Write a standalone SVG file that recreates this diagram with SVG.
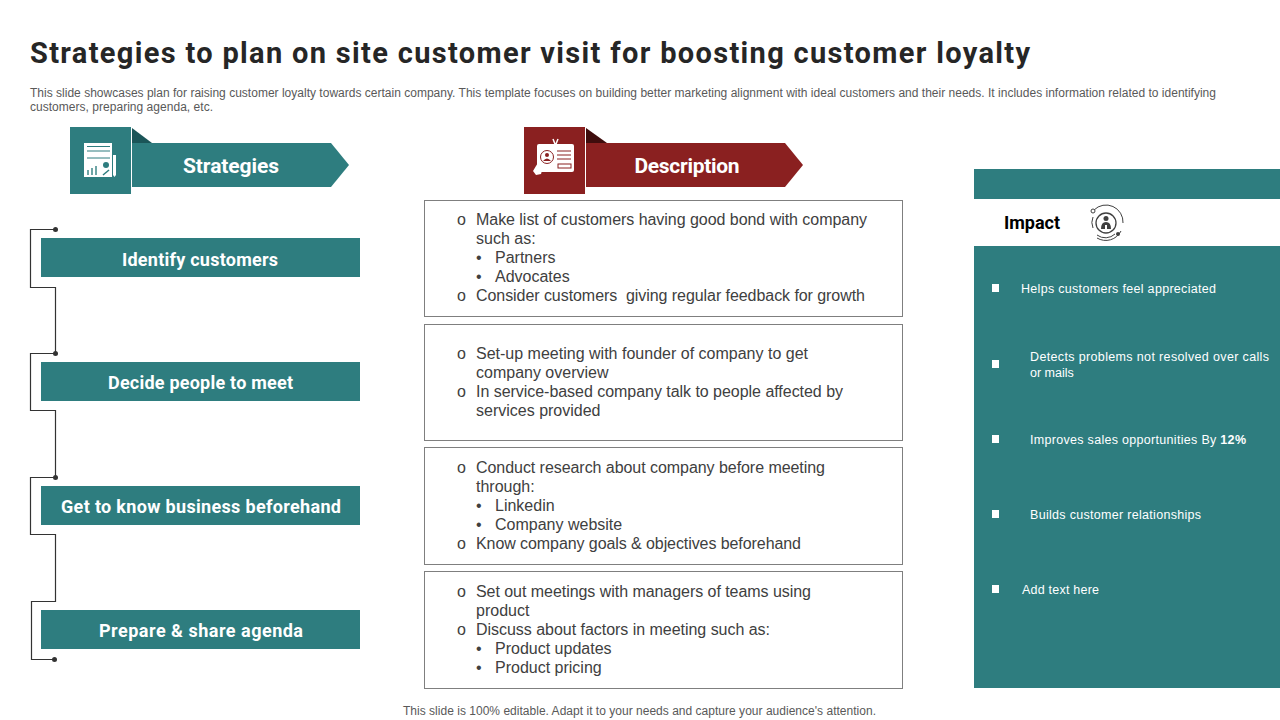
<svg xmlns="http://www.w3.org/2000/svg" width="1280" height="720" viewBox="0 0 1280 720">
<style>
.h{font-family:"Roboto","Liberation Sans",sans-serif;font-weight:700;fill:#fff;text-anchor:middle;font-size:18px}
.b{font-family:"Liberation Sans",Arial,sans-serif;font-size:16px;fill:#404040;white-space:pre}
.w{font-family:"Liberation Sans",Arial,sans-serif;font-size:12.500px;fill:#fff}
.s{font-family:"Liberation Sans",Arial,sans-serif;font-size:12px;fill:#595959}
.box{fill:#fff;stroke:#7f7f7f;stroke-width:1}
.t{fill:#2e7d7f}
.r{fill:#8a2020}
.c{fill:none;stroke:#333;stroke-width:1.200}
.d{fill:#333}
.q{fill:#fff}
.i{fill:none;stroke:#404040;stroke-width:1}
</style>
<rect width="1280" height="720" fill="#fff"/>
<g id="title">
<text x="30" y="63" font-family="Roboto,'Liberation Sans',sans-serif" font-weight="700" font-size="29" fill="#262626" textLength="1000" lengthAdjust="spacing">Strategies to plan on site customer visit for boosting customer loyalty</text>
<text class="s" x="30" y="97" textLength="1186">This slide showcases plan for raising customer loyalty towards certain company. This template focuses on building better marketing alignment with ideal customers and their needs. It includes information related to identifying</text>
<text class="s" x="30" y="111" textLength="183">customers, preparing agenda, etc.</text>
</g>
<g id="connectors">
<path class="c" d="M55.500 229.500H30.500V287.500H55.500V353.500H30.500V410.500H55.500V477.500H30.500V534.500H55.500V601.500H31.500V659.500H54.500"/>
<circle class="d" cx="55.500" cy="229.500" r="2.500"/>
<circle class="d" cx="55.500" cy="353.500" r="2.500"/>
<circle class="d" cx="55.500" cy="477.500" r="2.500"/>
<circle class="d" cx="54.500" cy="659.500" r="2.500"/>
</g>
<g id="strategies-header">
<rect class="t" x="70" y="127" width="61" height="67"/>
<path fill="#1b5558" d="M132 128L152 143H132Z"/>
<path class="t" d="M132 143H331L349 165L331 187H132Z"/>
<text class="h" x="231" y="173" style="font-size:21px" textLength="96">Strategies</text>
<rect class="q" x="84" y="143" width="28" height="34"/>
<path d="M87 146.500H110M87 151H110M87 158H110" stroke="#2e7d7f" stroke-width="1"/>
<path d="M88 175V170M92 175V168M96 175V166" stroke="#6ea5a6" stroke-width="2"/>
<circle class="t" cx="106" cy="165" r="3"/>
<path d="M103 175L109 170" stroke="#2e7d7f" stroke-width="1.500"/>
<path class="q" d="M113 155H116V175L114.500 177L113 175Z"/>
</g>
<g id="description-header">
<rect class="r" x="524" y="127" width="61" height="67"/>
<path fill="#3f0d0d" d="M586 128L607 143H586Z"/>
<path class="r" d="M586 143H785L803 165L785 187H586Z"/>
<text class="h" x="687" y="173" style="font-size:21px" textLength="105">Description</text>
<rect class="q" x="537" y="144" width="37" height="28" rx="2"/>
<path d="M553 139L555 144M558 139L556 144" stroke="#fff" stroke-width="1.500"/>
<circle cx="547" cy="157" r="6.500" fill="#fff" stroke="#8a2020"/>
<circle cx="547" cy="155" r="2" fill="#8a2020"/>
<path d="M543 161Q547 156 551 161Z" fill="#8a2020"/>
<path d="M557 151H571M557 155H571M557 159H571" stroke="#8a2020" stroke-width="1"/>
<rect x="558" y="164" width="13" height="4" fill="none" stroke="#8a2020" stroke-width="1"/>
<path class="q" d="M533 171L539 161L543 167L541 174L536 175Z"/>
</g>
<g id="identify"><rect class="t" x="41" y="238" width="319" height="39"/><text class="h" x="200" y="266" textLength="156">Identify customers</text></g>
<g id="decide"><rect class="t" x="41" y="362" width="319" height="39"/><text class="h" x="200.500" y="389" textLength="185">Decide people to meet</text></g>
<g id="know"><rect class="t" x="41" y="486" width="319" height="39"/><text class="h" x="201" y="513" textLength="280">Get to know business beforehand</text></g>
<g id="prepare"><rect class="t" x="41" y="610" width="319" height="39"/><text class="h" x="201" y="637" textLength="204">Prepare &amp; share agenda</text></g>
<g id="desc1"><rect class="box" x="424.500" y="200.500" width="478" height="116"/>
<text class="b" x="457" y="225">o</text><text class="b" x="476" y="225" textLength="391">Make list of customers having good bond with company</text>
<text class="b" x="476" y="244">such as:</text>
<text class="b" x="476" y="263">•</text><text class="b" x="495" y="263">Partners</text>
<text class="b" x="476" y="282">•</text><text class="b" x="495" y="282">Advocates</text>
<text class="b" x="457" y="301">o</text><text class="b" x="476" y="301" textLength="389">Consider customers  giving regular feedback for growth</text></g>
<g id="desc2"><rect class="box" x="424.500" y="324.500" width="478" height="116"/>
<text class="b" x="457" y="359">o</text><text class="b" x="476" y="359" textLength="332">Set-up meeting with founder of company to get</text>
<text class="b" x="476" y="378">company overview</text>
<text class="b" x="457" y="397">o</text><text class="b" x="476" y="397" textLength="367">In service-based company talk to people affected by</text>
<text class="b" x="476" y="416">services provided</text></g>
<g id="desc3"><rect class="box" x="424.500" y="447.500" width="478" height="117"/>
<text class="b" x="457" y="473">o</text><text class="b" x="476" y="473" textLength="349">Conduct research about company before meeting</text>
<text class="b" x="476" y="492">through:</text>
<text class="b" x="476" y="511">•</text><text class="b" x="495" y="511">Linkedin</text>
<text class="b" x="476" y="530">•</text><text class="b" x="495" y="530">Company website</text>
<text class="b" x="457" y="549">o</text><text class="b" x="476" y="549" textLength="325">Know company goals &amp; objectives beforehand</text></g>
<g id="desc4"><rect class="box" x="424.500" y="571.500" width="478" height="117"/>
<text class="b" x="457" y="597">o</text><text class="b" x="476" y="597" textLength="335">Set out meetings with managers of teams using</text>
<text class="b" x="476" y="616">product</text>
<text class="b" x="457" y="635">o</text><text class="b" x="476" y="635" textLength="294">Discuss about factors in meeting such as:</text>
<text class="b" x="476" y="654">•</text><text class="b" x="495" y="654">Product updates</text>
<text class="b" x="476" y="673">•</text><text class="b" x="495" y="673">Product pricing</text></g>
<g id="impact">
<rect class="t" x="974" y="169" width="306" height="30"/>
<rect class="t" x="974" y="246" width="306" height="442"/>
<text x="1004" y="229" font-family="Roboto,'Liberation Sans',sans-serif" font-weight="700" font-size="18" fill="#000" textLength="56">Impact</text>
<path class="i" d="M1094 210A17 17 0 0 1 1123 223M1121 231A17 17 0 0 1 1097 238"/>
<path class="i" d="M1093 228A14 14 0 0 1 1093 217M1097 235A14 14 0 0 0 1115 234"/>
<circle cx="1106" cy="223" r="10" fill="none" stroke="#404040" stroke-width="1.300"/>
<circle cx="1106" cy="218.500" r="2.500" fill="#404040"/>
<path d="M1101 229Q1101 222 1106 222Q1111 222 1111 229H1107V225H1105V229Z" fill="#404040"/>
<circle cx="1093" cy="211" r="2" fill="#fff" stroke="#404040"/>
<circle cx="1118" cy="234" r="2" fill="#404040"/>
<rect class="q" x="992" y="284" width="7" height="8"/>
<text class="w" x="1021" y="293" textLength="195">Helps customers feel appreciated</text>
<rect class="q" x="992" y="360" width="7" height="8"/>
<text class="w" x="1030" y="361" textLength="239">Detects problems not resolved over calls</text>
<text class="w" x="1030" y="377">or mails</text>
<rect class="q" x="992" y="435" width="7" height="8"/>
<text class="w" x="1030" y="444" textLength="216">Improves sales opportunities By <tspan font-weight="700">12%</tspan></text>
<rect class="q" x="992" y="510" width="7" height="8"/>
<text class="w" x="1030" y="519" textLength="171">Builds customer relationships</text>
<rect class="q" x="992" y="585" width="7" height="8"/>
<text class="w" x="1022" y="594" textLength="77">Add text here</text>
</g>
<text id="footer" class="s" x="403" y="715" textLength="473">This slide is 100% editable. Adapt it to your needs and capture your audience's attention.</text>
</svg>
